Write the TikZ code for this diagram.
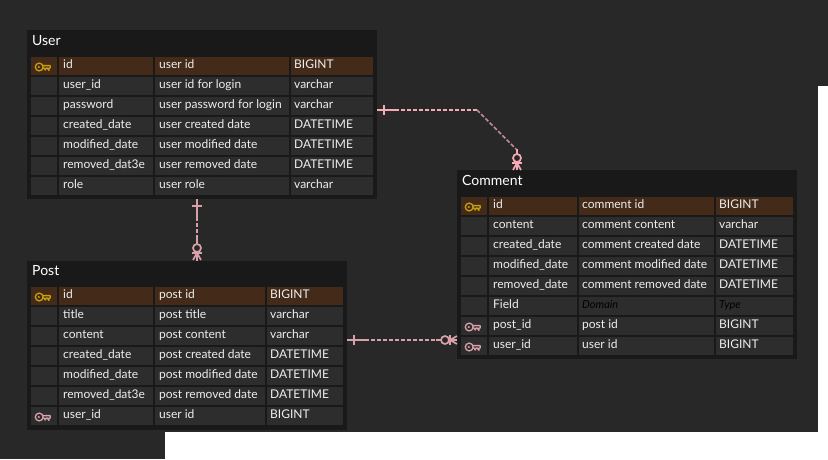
\documentclass[tikz,border=0pt]{standalone}
\usepackage{fontspec}
\setmainfont{Lato}
\usetikzlibrary{positioning}
\definecolor{canvas}{RGB}{40, 40, 40}
\definecolor{tablebg}{RGB}{25, 25, 25}
\definecolor{cellbg}{RGB}{45, 45, 45}
\definecolor{pkrow}{RGB}{68, 42, 24}
\definecolor{linkpink}{RGB}{245, 170, 180}
\definecolor{linkdim}{RGB}{190, 140, 150}
\definecolor{pkgold}{RGB}{200, 160, 15}
\definecolor{fkpink}{RGB}{215, 160, 170}
\definecolor{celltext}{RGB}{238, 238, 238}
\tikzset{
  tablebox/.style={fill=tablebg, draw=none, inner sep=0pt, anchor=north west},
  tabletitle/.style={text=white, font=\fontsize{14}{14}\selectfont, anchor=base west, inner sep=0pt},
  celltxt/.style={text=celltext, font=\fontsize{12}{12}\selectfont, anchor=base west, inner sep=0pt},
  ghost/.style={text=black, font=\itshape\fontsize{11}{11}\selectfont, anchor=base west, inner sep=0pt},
  relation/.style={line width=1.7pt, dash pattern=on 4pt off 2pt},
  relationend/.style={line width=1.7pt},
}
% one row: y, x0 x1 x2 x3 x4 of cell edges, fill
\newcommand{\cellrow}[7]{%
  \fill[#7] (#2,#1) rectangle (#3-2,#1+18);
  \fill[#7] (#3,#1) rectangle (#4-2,#1+18);
  \fill[#7] (#4,#1) rectangle (#5-2,#1+18);
  \fill[#7] (#5,#1) rectangle (#6,#1+18);
}
% key glyph at centre
\newcommand{\keyicon}[3]{%
  \begin{scope}[shift={(#1,#2)}, draw=#3, line width=1.3pt]
    \draw (-3.8,0) circle (3.9 and 3.9);
    \fill[#3] (-4.2,0) circle (1.2);
    \draw[line join=round] (0,-1.4) -- (7.2,-1.4) -- (7.2,1) -- (5.9,1) -- (5.9,3.4) -- (4.2,1)
      -- (3.2,1) -- (2.2,3) -- (1,1) -- (-0.2,1);
  \end{scope}%
}
\newcommand{\crowfoot}[1]{%
  \begin{scope}[#1]
    \draw[relationend] (0,-13) -- (0,-8) (0,1) -- (0,8);
    \draw[relationend, fill=canvas] (0,-4) circle (4);
    \draw[relationend] (-5,1) -- (5,1);
    \draw[relationend] (0,1) -- (-4,8) (0,1) -- (4,8);
  \end{scope}%
}
\begin{document}
\begin{tikzpicture}[x=1pt, y=-1pt]
  \useasboundingbox (0,0) rectangle (828,459);
  \fill[canvas] (0,0) rectangle (828,459);
  \fill[white] (818,86) -- (828,86) -- (828,459) -- (165,459) -- (165,432) -- (818,432) -- cycle;

  % User table
  \node[tablebox, minimum width=350pt, minimum height=169pt] (usertable) at (27,30) {};
  \node[tabletitle] (usertitle) at (32,45) {User};
  \cellrow{57}{31}{59}{155}{291}{373}{pkrow}
  \cellrow{77}{31}{59}{155}{291}{373}{cellbg}
  \cellrow{97}{31}{59}{155}{291}{373}{cellbg}
  \cellrow{117}{31}{59}{155}{291}{373}{cellbg}
  \cellrow{137}{31}{59}{155}{291}{373}{cellbg}
  \cellrow{157}{31}{59}{155}{291}{373}{cellbg}
  \cellrow{177}{31}{59}{155}{291}{373}{cellbg}
  \keyicon{43}{67}{pkgold}
  \node[celltxt] (ua1) at (63,68)  {id};            \node[celltxt] (ub1) at (159,68)  {user id};                 \node[celltxt] (uc1) at (294,68)  {BIGINT};
  \node[celltxt] (ua2) at (63,88)  {user\_id};      \node[celltxt] (ub2) at (159,88)  {user id for login};       \node[celltxt] (uc2) at (294,88)  {varchar};
  \node[celltxt] (ua3) at (63,108) {password};      \node[celltxt] (ub3) at (159,108) {user password for login}; \node[celltxt] (uc3) at (294,108) {varchar};
  \node[celltxt] (ua4) at (63,128) {created\_date}; \node[celltxt] (ub4) at (159,128) {user created date};       \node[celltxt] (uc4) at (294,128) {DATETIME};
  \node[celltxt] (ua5) at (63,148) {modified\_date};\node[celltxt] (ub5) at (159,148) {user modified date};      \node[celltxt] (uc5) at (294,148) {DATETIME};
  \node[celltxt] (ua6) at (63,168) {removed\_dat3e};\node[celltxt] (ub6) at (159,168) {user removed date};       \node[celltxt] (uc6) at (294,168) {DATETIME};
  \node[celltxt] (ua7) at (63,188) {role};          \node[celltxt] (ub7) at (159,188) {user role};               \node[celltxt] (uc7) at (294,188) {varchar};

  % Post table
  \node[tablebox, minimum width=320pt, minimum height=169pt] (posttable) at (27,261) {};
  \node[tabletitle] (posttitle) at (32,275) {Post};
  \cellrow{287}{31}{59}{155}{267}{343}{pkrow}
  \cellrow{307}{31}{59}{155}{267}{343}{cellbg}
  \cellrow{327}{31}{59}{155}{267}{343}{cellbg}
  \cellrow{347}{31}{59}{155}{267}{343}{cellbg}
  \cellrow{367}{31}{59}{155}{267}{343}{cellbg}
  \cellrow{387}{31}{59}{155}{267}{343}{cellbg}
  \cellrow{407}{31}{59}{155}{267}{343}{cellbg}
  \keyicon{43}{297}{pkgold}
  \keyicon{43}{417}{fkpink}
  \node[celltxt] (pa1) at (63,298) {id};            \node[celltxt] (pb1) at (159,298) {post id};           \node[celltxt] (pc1) at (270,298) {BIGINT};
  \node[celltxt] (pa2) at (63,318) {title};         \node[celltxt] (pb2) at (159,318) {post title};        \node[celltxt] (pc2) at (270,318) {varchar};
  \node[celltxt] (pa3) at (63,338) {content};       \node[celltxt] (pb3) at (159,338) {post content};      \node[celltxt] (pc3) at (270,338) {varchar};
  \node[celltxt] (pa4) at (63,358) {created\_date}; \node[celltxt] (pb4) at (159,358) {post created date}; \node[celltxt] (pc4) at (270,358) {DATETIME};
  \node[celltxt] (pa5) at (63,378) {modified\_date};\node[celltxt] (pb5) at (159,378) {post modified date};\node[celltxt] (pc5) at (270,378) {DATETIME};
  \node[celltxt] (pa6) at (63,398) {removed\_dat3e};\node[celltxt] (pb6) at (159,398) {post removed date}; \node[celltxt] (pc6) at (270,398) {DATETIME};
  \node[celltxt] (pa7) at (63,418) {user\_id};      \node[celltxt] (pb7) at (159,418) {user id};           \node[celltxt] (pc7) at (270,418) {BIGINT};

  % Comment table
  \node[tablebox, minimum width=340pt, minimum height=189pt] (commenttable) at (457,170) {};
  \node[tabletitle] (commenttitle) at (462,185) {Comment};
  \cellrow{197}{461}{489}{579}{716}{793}{pkrow}
  \cellrow{217}{461}{489}{579}{716}{793}{cellbg}
  \cellrow{237}{461}{489}{579}{716}{793}{cellbg}
  \cellrow{257}{461}{489}{579}{716}{793}{cellbg}
  \cellrow{277}{461}{489}{579}{716}{793}{cellbg}
  \cellrow{297}{461}{489}{579}{716}{793}{cellbg}
  \cellrow{317}{461}{489}{579}{716}{793}{cellbg}
  \cellrow{337}{461}{489}{579}{716}{793}{cellbg}
  \keyicon{473}{207}{pkgold}
  \keyicon{473}{327}{fkpink}
  \keyicon{473}{347}{fkpink}
  \node[celltxt] (ca1) at (493,208) {id};            \node[celltxt] (cb1) at (582,208) {comment id};           \node[celltxt] (cc1) at (719,208) {BIGINT};
  \node[celltxt] (ca2) at (493,228) {content};       \node[celltxt] (cb2) at (582,228) {comment content};      \node[celltxt] (cc2) at (719,228) {varchar};
  \node[celltxt] (ca3) at (493,248) {created\_date}; \node[celltxt] (cb3) at (582,248) {comment created date}; \node[celltxt] (cc3) at (719,248) {DATETIME};
  \node[celltxt] (ca4) at (493,268) {modified\_date};\node[celltxt] (cb4) at (582,268) {comment modified date};\node[celltxt] (cc4) at (719,268) {DATETIME};
  \node[celltxt] (ca5) at (493,288) {removed\_date}; \node[celltxt] (cb5) at (582,288) {comment removed date}; \node[celltxt] (cc5) at (719,288) {DATETIME};
  \node[celltxt] (ca6) at (493,308) {Field};         \node[ghost]   (cb6) at (582,308) {Domain};               \node[ghost]   (cc6) at (719,308) {Type};
  \node[celltxt] (ca7) at (493,328) {post\_id};      \node[celltxt] (cb7) at (582,328) {post id};              \node[celltxt] (cc7) at (719,328) {BIGINT};
  \node[celltxt] (ca8) at (493,348) {user\_id};      \node[celltxt] (cb8) at (582,348) {user id};              \node[celltxt] (cc8) at (719,348) {BIGINT};

  % User to Comment
  \coordinate (ucstart) at ([yshift=-80pt]usertable.north east);
  \coordinate (ucbend)  at (477,110);
  \coordinate (ucdrop)  at (516,149);
  \draw[relation, linkpink] (ucstart) -- (ucbend);
  \draw[relation, linkdim] (ucbend) -- (ucdrop);
  \draw[relationend, linkpink] (ucstart) -- ++(20,0) (384,105) -- (384,115);
  \crowfoot{shift={(517,162)}, draw=linkpink}

  % User to Post
  \coordinate (upstart) at ([xshift=170pt]usertable.south west);
  \coordinate (upend)   at ([xshift=170pt]posttable.north west);
  \draw[relation, fkpink] (upstart) -- (upend);
  \draw[relationend, fkpink] (upstart) -- ++(0,18) (192,206) -- (202,206);
  \crowfoot{shift={(197,252)}, draw=fkpink}

  % Post to Comment
  \coordinate (pcstart) at ([yshift=-79pt]posttable.north east);
  \coordinate (pcend)   at ([yshift=-170pt]commenttable.north west);
  \draw[relation, fkpink] (pcstart) -- (pcend);
  \draw[relationend, fkpink] (pcstart) -- ++(20,0) (354,335) -- (354,345);
  \crowfoot{shift={(449,340)}, rotate=90, draw=fkpink}
\end{tikzpicture}
\end{document}
